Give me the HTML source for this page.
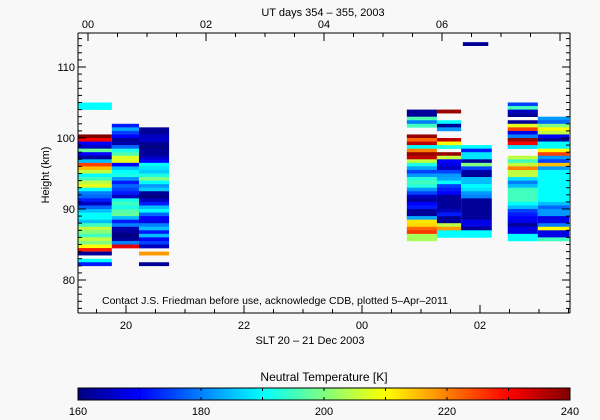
<!DOCTYPE html>
<html><head><meta charset="utf-8">
<style>
html,body{margin:0;padding:0;background:#f8f8f8;}
svg{display:block;font-family:"Liberation Sans",sans-serif;}
</style></head>
<body>
<svg id="chart" width="600" height="420" viewBox="0 0 600 420">
  <rect x="0" y="0" width="600" height="420" fill="#f8f8f8"/>
  <g id="cells"></g>
  <g id="axes"></g>
  <text x="323" y="16" font-size="11" text-anchor="middle">UT days 354 – 355, 2003</text>
  <text x="310" y="344" font-size="11" text-anchor="middle">SLT 20 – 21 Dec 2003</text>
  <text x="49" y="175" font-size="11" text-anchor="middle" transform="rotate(-90 49 175)">Height (km)</text>
  <text x="102" y="304" font-size="10.5">Contact J.S. Friedman before use, acknowledge CDB, plotted 5–Apr–2011</text>
  <text x="324" y="381" font-size="12" text-anchor="middle">Neutral Temperature [K]</text>
  <defs>
    <linearGradient id="jet" x1="0" x2="1" y1="0" y2="0">
      <stop offset="0" stop-color="#000080"/>
      <stop offset="0.125" stop-color="#0000ff"/>
      <stop offset="0.375" stop-color="#00ffff"/>
      <stop offset="0.625" stop-color="#ffff00"/>
      <stop offset="0.875" stop-color="#ff0000"/>
      <stop offset="1" stop-color="#800000"/>
    </linearGradient>
  </defs>
  <rect x="78" y="388" width="492" height="12" fill="url(#jet)" stroke="#000" stroke-width="1"/>
  <g id="cbar"></g>
</svg>
<script>
// ---- data ----
const colStart = [19.19, 19.76, 20.22, 24.76, 25.27, 25.68, 26.47, 26.98, 25.71];
const colEnd   = [19.76, 20.22, 20.73, 25.27, 25.68, 26.20, 26.98, 27.51, 26.14];
const colTop   = [105, 102, 101.5, 104, 104, 99, 105, 103, 113.5];
const N = null;
const col1 = [190,190,N,N,N,N,N,N,N,240,230,170,165,198,170,162,185,225,215,205,190,195,205,208,190,180,178,172,165,178,185,190,190,185,195,205,200,195,205,200,210,228,162,N,190,172];
const col2 = [172,183,175,170,162,163,178,192,196,207,208,170,185,190,192,182,172,178,175,172,165,192,195,192,196,198,185,172,180,164,162,160,162,180,232];
const col3 = [162,162,165,166,162,160,162,162,165,170,190,188,186,192,200,190,182,186,162,160,165,172,185,190,178,170,168,180,185,172,185,170,175,165,N,218,N,N,162];
const col4 = [162,162,196,180,195,N,N,238,222,235,190,220,238,235,205,192,183,175,182,193,195,193,182,175,165,162,170,172,162,162,183,212,213,222,226,203,203];
const col5 = [238,N,N,190,162,182,N,N,235,210,192,N,238,205,170,168,165,175,182,183,190,175,172,170,162,162,162,162,165,172,162,162,205,218,190,190];
const col6 = [190,172,188,188,162,200,175,163,162,185,185,190,188,182,180,162,162,162,162,162,162,168,168,162,190,190];
const col7 = [175,195,165,162,N,162,208,225,168,180,238,230,188,N,N,205,195,205,220,205,205,188,180,185,195,195,195,195,190,185,175,172,170,168,162,168,168,190,190];
const col8 = [182,178,200,210,205,170,162,190,190,210,225,182,175,215,182,190,190,190,190,190,190,190,190,190,185,178,182,182,168,168,180,210,168,168,195];
const col9 = [162];
const columns = [col1,col2,col3,col4,col5,col6,col7,col8,col9];
const binKm = 0.5;
const tMin = 160, tMax = 240;
const cbarTicks = [160,180,200,220,240];
const yTickLabels = [80,90,100,110];
const sltTickLabels = ["20","22","00","02"];
const utTickLabels = ["00","02","04","06"];

// ---- axis functions ----
const X0=78, X1=570, Y0=33, Y1=313;
const xS = h => 126 + (h-20)*59;
const yS = km => 67 + (110-km)*7.1;
function jet(v){
  let t=(v-tMin)/(tMax-tMin); t=Math.max(0,Math.min(1,t));
  const stops=[[0,[0,0,128]],[0.125,[0,0,255]],[0.375,[0,255,255]],[0.625,[255,255,0]],[0.875,[255,0,0]],[1,[128,0,0]]];
  for(let i=1;i<stops.length;i++){ if(t<=stops[i][0]){const a=stops[i-1],b=stops[i];const f=(t-a[0])/(b[0]-a[0]);
    return 'rgb('+a[1].map((c,k)=>Math.round(c+(b[1][k]-c)*f)).join(',')+')';}}
  return 'rgb(128,0,0)';
}
const NS='http://www.w3.org/2000/svg';
function mk(tag,attrs,parent){const e=document.createElementNS(NS,tag);for(const k in attrs)e.setAttribute(k,attrs[k]);parent.appendChild(e);return e;}

const cells=document.getElementById('cells');
columns.forEach((arr,ci)=>{
  const xa=Math.max(X0,xS(colStart[ci])), xb=Math.min(X1,xS(colEnd[ci]));
  arr.forEach((v,ri)=>{
    if(v===null) return;
    const top=colTop[ci]-ri*binKm;
    const ya=yS(top), yb=yS(top-binKm);
    const r=mk('rect',{x:xa,y:ya,width:xb-xa,height:yb-ya+0.3,fill:jet(v)},cells);
    
    
  });
});

const ax=document.getElementById('axes');
const L=(x1,y1,x2,y2,p)=>mk('line',{x1,y1,x2,y2,stroke:'#000','stroke-width':1},p);
// frame
L(X0,Y0,X1,Y0,ax);L(X0,Y1,X1,Y1,ax);L(X0,Y0,X0,Y1,ax);L(X1,Y0,X1,Y1,ax);
// y ticks
for(let km=76;km<=114;km++){
  const y=yS(km); if(y<Y0||y>Y1) continue;
  const len = km%10===0?8:4;
  L(X0,y,X0+len,y,ax); L(X1,y,X1-len,y,ax);
}
yTickLabels.forEach(v=>{
  const t=mk('text',{x:X0-3,y:yS(v)+4,'font-size':11,'text-anchor':'end'},ax);
  t.textContent=v;
  
  
});
// bottom ticks (SLT)
for(let h=19;h<=28;h+=0.5){
  const x=xS(h); if(x<X0||x>X1) continue;
  const len=(Math.round(h)===h && h%2===0)?8:4;
  L(x,Y1,x,Y1-len,ax);
}
sltTickLabels.forEach((s,i)=>{
  const t=mk('text',{x:xS(20+2*i),y:Y1+16,'font-size':11,'text-anchor':'middle'},ax);
  t.textContent=s;
  
  
});
// top ticks (UT): UT 00 at SLT 19.356
const utOff = 19.356;
for(let h=-1;h<=9;h+=0.5){
  const x=xS(utOff+h); if(x<X0||x>X1) continue;
  const len=(Math.round(h)===h && h%2===0)?8:4;
  L(x,Y0,x,Y0+len,ax);
}
utTickLabels.forEach((s,i)=>{
  const t=mk('text',{x:xS(utOff+2*i),y:Y0-5,'font-size':11,'text-anchor':'middle'},ax);
  t.textContent=s;
  
  
});
// colorbar ticks
const cb=document.getElementById('cbar');
const cx=v=>78+(v-tMin)/(tMax-tMin)*492;
for(let v=tMin+10;v<tMax;v+=10){ L(cx(v),388,cx(v),391,cb); L(cx(v),400,cx(v),397,cb); }
cbarTicks.forEach(v=>{
  const t=mk('text',{x:cx(v),y:415,'font-size':11,'text-anchor':'middle'},cb);
  t.textContent=v;
  
  
});
</script>
</body></html>
